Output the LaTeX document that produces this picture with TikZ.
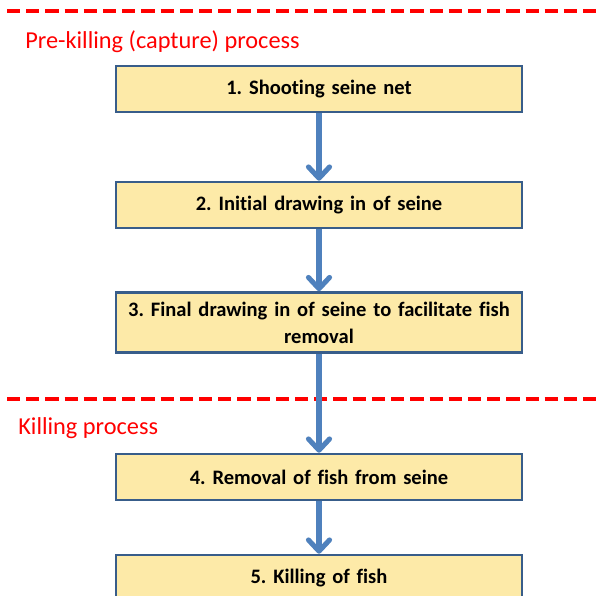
\documentclass[tikz,border=0pt]{standalone}
\usepackage{fontspec}
\setmainfont{Carlito}[Ligatures=NoCommon]
\usepackage{tikz}
\usetikzlibrary{positioning,calc,arrows.meta}
\definecolor{boxfill}{RGB}{253,234,168}
\definecolor{boxline}{RGB}{56,93,138}
\definecolor{arrowblue}{RGB}{79,129,189}
\frenchspacing

\tikzset{
	stagebox/.style={rectangle,draw=boxline,line width=1.8pt,fill=boxfill,minimum width=10.15cm,minimum height=1.15cm,text width=9.8cm,inner xsep=0.05cm,align=center,font=\fontsize{14.6}{19.2}\selectfont\bfseries},
	flowarrow/.style={arrowblue,line width=3.6pt,-{Straight Barb[length=8pt,width=15pt,round]}},
	sectionline/.style={red,line width=2.5pt,dash pattern=on 0.33cm off 0.15cm},
	sectionlabel/.style={anchor=west,text=red,inner sep=0pt,font=\fontsize{17.3}{20}\selectfont}
}

\begin{document}
\begin{tikzpicture}[x=0.025cm,y=-0.025cm]
		
		\useasboundingbox (0,0) rectangle (598,596);
		
		% pre-killing part
		\draw[sectionline] (7,11) -- (610,11);
		\node[sectionlabel] (L1) at (25,42) {Pre-killing (capture) process};
		
		\node[stagebox] (S1) at (319,89) {1. Shooting seine net};
		\node[stagebox] (S2) at (319,205) {2. Initial drawing in of seine};
		\node[stagebox,minimum height=1.5cm] (S3) at (319,322.5) {3. Final drawing in of seine to facilitate fish\\ removal};
		
		% killing part
		\draw[sectionline] (7,399) -- (610,399);
		\node[sectionlabel] (L2) at (18,428) {Killing process};
		
		\node[stagebox] (S4) at (319,477) {4. Removal of fish from seine};
		\node[stagebox] (S5) at (319,578) {5. Killing of fish};
		
		\draw[flowarrow] (S1) -- (S2);
		\draw[flowarrow] (S2) -- (S3);
		\draw[flowarrow] (S3) -- (S4);
		\draw[flowarrow] (S4) -- (S5);
		
\end{tikzpicture}
\end{document}
